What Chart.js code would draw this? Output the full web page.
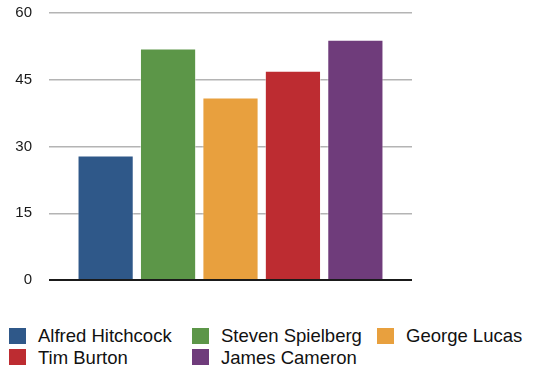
<!DOCTYPE html>
<html>
<head>
<meta charset="utf-8">
<script src="https://cdn.jsdelivr.net/npm/chart.js@4"></script>
<style>
  html, body { margin: 0; padding: 0; background: #fff; }
  #wrap { position: relative; width: 541px; height: 371px; font-family: "Liberation Sans", Arial, sans-serif; }
  #chartBox { position: absolute; left: 0; top: 0; width: 541px; height: 300px; }
  #legend { position: absolute; left: 9px; top: 325px; display: grid; grid-template-columns: 183px 185px auto; }
  .item { display: flex; align-items: center; font-size: 18.5px; line-height: 21.5px; color: #111; white-space: nowrap; }
  .swatch { width: 17px; height: 16px; margin-right: 12px; flex: none; }
</style>
</head>
<body>
<div id="wrap">
  <div id="chartBox"><canvas id="chart" width="541" height="300"></canvas></div>
  <div id="legend"></div>
</div>
<script>
// ----------------- Data -----------------
const directors = ['Alfred Hitchcock', 'Steven Spielberg', 'George Lucas', 'Tim Burton', 'James Cameron'];
const values = [28, 52, 41, 47, 54];
const colors = ['#2f5889', '#5c9648', '#e8a03e', '#bd2c31', '#6f3c7b'];
const yTicks = [0, 15, 30, 45, 60];

const datasets = directors.map((name, i) => ({
  label: name,
  data: [values[i]],
  backgroundColor: colors[i],
  borderColor: 'rgba(255,255,255,0.45)',
  borderWidth: 1,
  categoryPercentage: 0.86,
  barPercentage: 0.9
}));

// ----------------- Chart -----------------
const chart = new Chart(document.getElementById('chart').getContext('2d'), {
  type: 'bar',
  data: { labels: [''], datasets },
  options: {
    responsive: false,
    animation: false,
    maintainAspectRatio: false,
    layout: { padding: { top: 13, right: 129, bottom: 20, left: 0 } },
    plugins: { legend: { display: false }, tooltip: { enabled: false } },
    scales: {
      x: { display: false },
      y: {
        min: 0,
        max: 60,
        afterBuildTicks: (scale) => { scale.ticks = yTicks.map(v => ({ value: v })); },
        afterFit: (scale) => {
          scale.width = 49;
          scale.paddingTop = 0;
          scale.paddingBottom = 0;
        },
        border: { display: false },
        grid: {
          drawTicks: false,
          color: (ctx) => ctx.tick && ctx.tick.value === 0 ? '#1a1a1a' : '#b4b4b4',
          lineWidth: (ctx) => ctx.tick && ctx.tick.value === 0 ? 2 : 1.5
        },
        ticks: {
          padding: 17,
          color: '#1a1a1a',
          font: { family: '"Liberation Sans", Arial, sans-serif', size: 15 }
        }
      }
    }
  }
});

// ----------------- Legend -----------------
const legendEl = document.getElementById('legend');
chart.data.datasets.forEach(ds => {
  const item = document.createElement('div');
  item.className = 'item';
  const sw = document.createElement('span');
  sw.className = 'swatch';
  sw.style.background = ds.backgroundColor;
  item.appendChild(sw);
  item.appendChild(document.createTextNode(ds.label));
  legendEl.appendChild(item);
});
</script>
</body>
</html>
